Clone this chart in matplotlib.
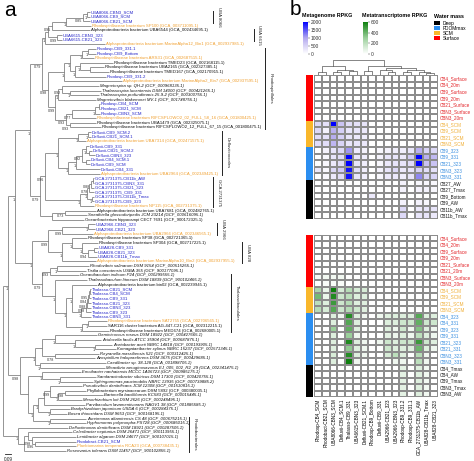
import numpy as np
import matplotlib
matplotlib.use("Agg")
import matplotlib.pyplot as plt
from matplotlib.colors import LinearSegmentedColormap, ListedColormap, Normalize
from matplotlib.cm import ScalarMappable
from matplotlib.patches import Patch

plt.rcParams['font.family'] = ['Liberation Sans', 'DejaVu Sans']

# ---------------- panel a: tree data ----------------
leaf_names = [
    "UBA8066-CBN3_SCM", "UBA8066-CB9_SCM", "UBA8066-CB21_SCM",
    "Rhodospirillaceae bacterium SP100 (GCA_003711095.1)",
    "Alphaproteobacteria bacterium UBA6544 (GCA_002434695.1)",
    "UBA6615-CBN3_323", "UBA6615-CB21_323",
    "Alphaproteobacteria bacterium MarineAlpha12_Bin1 (GCA_002937985.1)",
    "Rhodosp-CB9_331.1", "Rhodosp-CB9_Bottom",
    "Rhodospirillaceae bacterium ARS31 (GCA_002687515.1)",
    "Rhodospirillaceae bacterium TMED23 (GCA_002168115.1)",
    "Rhodospirillaceae bacterium UBA2165 (GCA_002327385.1)",
    "Rhodospirillaceae bacterium TMED167 (GCA_002170915.1)",
    "Rhodosp-CB9_331.2",
    "Alphaproteobacteria bacterium MarineAlpha2_Bin7 (GCA_002937595.1)",
    "Magnetospira sp. QH-2 (GCF_000968135.1)",
    "Thalassospira lucentensis DSM 14000 (GCF_000421265.1)",
    "Thalassospira profundimaris 25-9-2 (GCF_000300755.1)",
    "Magnetovibrio blakemorei MV-1 (GCF_001748755.1)",
    "Rhodosp-CB4_SCM", "Rhodosp-CB21_SCM", "Rhodosp-CBN3_SCM",
    "Rhodospirillaceae bacterium RIFCSPLOWO2_02_FULL_58_16 (GCA_001800425.1)",
    "Rhodospirillaceae bacterium UBA1479 (GCA_002325075.1)",
    "Rhodospirillaceae bacterium RIFCSPLOWO2_12_FULL_67_15 (GCA_001800475.1)",
    "Defluvii-CB9_SCM.2", "Defluvii-CB21_SCM.1",
    "Alphaproteobacteria bacterium UBA7314 (GCA_002471575.1)",
    "Defluvii-CB9_331", "Defluvii-CB21_SCM.2", "Defluvii-CBN3_323",
    "Defluvii-CB4_SCM.1", "Defluvii-CB9_SCM", "Defluvii-CB4_331",
    "Alphaproteobacteria bacterium UBA2964 (GCA_002349425.1)",
    "GCA 2731375-CB11b_AW", "GCA 2731375-CBN3_331", "GCA 2731375-CB21_323",
    "GCA 2731375_CB9_331", "GCA 2731375-CB11b_Tmax", "GCA 2731375-CB9_323",
    "Rhodospirillaceae bacterium NP115 (GCA_002731375.1)",
    "Alphaproteobacteria bacterium UBA7681 (GCA_002482765.1)",
    "Sneathiella glossodoripedis JCM 23214 (GCF_000616095.1)",
    "Oceanibacterium hippocampi CECT 7691 (GCF_900172325.1)",
    "UBA2966-CBN3_323", "UBA2966-CB21_323",
    "Alphaproteobacteria bacterium UBA2966 (GCA_002346565.1)",
    "Rhodospirillaceae bacterium SP38 (GCA_002721365.1)",
    "Rhodospirillaceae bacterium SP304 (GCA_002717225.1)",
    "UBA828-CB9_331", "UBA828-CB21_323", "UBA828-CB11b_Tmax",
    "Alphaproteobacteria bacterium MarineAlpha10_Bin2 (GCA_002937955.1)",
    "Rhodovibrio salinarum DSM 9154 (GCF_000515255.1)",
    "Tistlia consotensis USBA 355 (GCF_900177095.1)",
    "Oceanibaculum indicum P24 (GCF_000299555.1)",
    "Thalassobaculum litoreum DSM 18839 (GCF_900102465.1)",
    "Alphaproteobacteria bacterium bin02 (GCA_002239945.1)",
    "Thalasso-CB21_SCM", "Thalasso-CB4_SCM", "Thalasso-CB9_331",
    "Thalasso-CB21_323", "Thalasso-CBN3_323", "Thalasso-CB9_323",
    "Thalasso-CBN3_331",
    "Rhodospirillaceae bacterium SAT2755 (GCA_002706565.1)",
    "SAR116 cluster bacterium AG-447-C21 (GCA_002312215.1)",
    "Rhodospirillaceae bacterium MED674 (GCA_002680005.1)",
    "Geminicoccus roseus DSM 18922 (GCF_000427665.1)",
    "Acidocella facilis ATCC 35904 (GCF_000687875.1)",
    "Acetobacter aceti NBRC 14818 (GCF_000193905.1)",
    "Komagataeibacter xylinus NBRC 15237 (GCF_001571345.1)",
    "Reyranella massiliensis 521 (GCF_000312425.1)",
    "Azospirillum halopraeferens DSM 3675 (GCF_000429685.1)",
    "Caedibacter sp. 38-128 (GCA_001898705.1)",
    "Micavibrio aeruginosavorus EJ_005_002_R2_29 (GCA_002341475.1)",
    "Emcibacter nanhaiensis MCCC 1A06723 (GCF_000985175.1)",
    "Sandaracinobacter sibiricus DSM 17300 (GCF_000420755.1)",
    "Sphingomonas paucimobilis NBRC 13935 (GCF_000739885.2)",
    "Pseudovibrio denitrificans JCM 12308 (GCF_001510815.1)",
    "Phyllobacterium myrsinacearum DSM 5892 (GCF_000380035.1)",
    "Bartonella bacilliformis KC583 (GCF_000015445.1)",
    "Mesorhizobium loti DSM 2626 (GCF_000248495.1)",
    "Parvibaculum lavamentivorans NAGV1 38 (GCF_001885585.1)",
    "Bradyrhizobium japonicum USDA 6 (GCF_000284375.1)",
    "Bosea thiooxidans DSM 9653 (GCF_900168195.1)",
    "Aureimonas altamirensis CS 48 (GCF_000675215.1)",
    "Hyphomonas polymorpha PS728 (GCF_000685015.1)",
    "Defluviimonas denitrificans DSM 18921 (GCF_000287505.1)",
    "Celeribacter neptunius DSM 26471 (GCF_900113955.1)",
    "Lentibacter algarum DSM 24677 (GCF_900107015.1)",
    "Rhodobact-CB21_SCM",
    "Planktomarina temperata RCA23 (GCA_000738435.1)",
    "Roseovarius tolerans DSM 11457 (GCF_900102855.1)",
]

# B = MAG from this study, O = closest reference MAG, K = reference genome
leaf_kind = list("BBBOKBBOBB" "OKKKBOKKKK" "BBBOKKBBOB" "BBBBBOBBBB"
                 "BBOKKKBBOK" "KBBBOKKKKK" "BBBBBBBOKK" "KKKKKKKKKK"
                 "KKKKKKKKKK" "KKKBOK")

tip_depth = [0.87, 0.87, 0.87, 0.88, 0.87, 0.59, 0.59, 1.02, 0.93, 0.93,
             0.91, 1.10, 1.01, 1.06, 1.03, 1.19, 0.96, 0.98, 0.96, 0.93,
             0.97, 0.97, 0.97, 0.93, 0.93, 0.98, 0.88, 0.88, 0.83, 0.86,
             0.89, 0.92, 0.87, 0.87, 0.97, 0.97, 0.91, 0.91, 0.91, 0.91,
             0.91, 0.91, 0.91, 0.93, 0.84, 0.81, 0.92, 0.92, 0.90, 0.84,
             0.95, 0.95, 0.94, 0.94, 0.93, 0.86, 0.83, 0.76, 0.84, 0.94,
             0.88, 0.88, 0.88, 0.88, 0.88, 0.88, 0.88, 1.04, 1.04, 1.06,
             0.94, 0.98, 1.09, 1.13, 0.96, 0.92, 1.03, 1.02, 0.78, 0.93,
             0.90, 0.79, 0.83, 1.00, 0.79, 0.82, 0.67, 0.64, 0.83, 0.83,
             0.65, 0.69, 0.73, 0.73, 0.73, 0.63]

# internal nodes: (first leaf, last leaf, node depth, support)
tree_clades = [
    (0, 1, 0.84, "1"), (0, 2, 0.80, "0.85"), (0, 3, 0.63, "1"), (0, 4, 0.49, "0.95"),
    (5, 6, 0.54, "0.99"), (0, 6, 0.45, ""), (0, 7, 0.42, "1"),
    (8, 9, 0.85, "1"), (8, 10, 0.79, "1"), (12, 13, 0.87, ""), (11, 13, 0.77, "1"),
    (11, 14, 0.72, "1"), (8, 14, 0.67, "1"), (8, 15, 0.61, "1"),
    (17, 18, 0.67, "1"), (16, 18, 0.59, "0.92"), (16, 19, 0.55, "1"),
    (20, 21, 0.96, ""), (20, 22, 0.92, "1"), (20, 23, 0.69, "0.77"),
    (24, 25, 0.67, "0.93"), (20, 25, 0.63, "0.93"), (16, 25, 0.52, "0.99"),
    (8, 25, 0.45, "0.98"), (0, 25, 0.39, "0.79"),
    (26, 27, 0.85, "1"), (26, 28, 0.75, "1"), (30, 31, 0.86, ""), (29, 31, 0.83, "1"),
    (32, 33, 0.83, ""), (29, 33, 0.79, "0.92"), (29, 34, 0.73, "1"), (29, 35, 0.65, "1"),
    (26, 35, 0.55, "1"),
    (36, 37, 0.90, ""), (36, 38, 0.88, "0.88"), (36, 39, 0.86, "0.78"), (40, 41, 0.89, "1"),
    (36, 41, 0.84, "1"), (36, 42, 0.77, "1"), (26, 42, 0.42, "0.96"),
    (43, 44, 0.62, "0.73"), (43, 45, 0.49, ""), (26, 45, 0.37, "0.79"), (0, 45, 0.27, "1"),
    (46, 47, 0.85, "1"), (46, 48, 0.59, "0.99"), (51, 52, 0.91, ""), (51, 53, 0.85, "0.94"),
    (50, 53, 0.79, "1"), (49, 53, 0.69, "1"), (49, 54, 0.59, "1"), (46, 54, 0.45, "0.99"),
    (55, 56, 0.54, "1"), (55, 57, 0.47, "0.93"),
    (60, 61, 0.87, ""), (60, 62, 0.86, "0.95"), (60, 63, 0.85, "0.84"), (60, 64, 0.84, "0.88"),
    (60, 65, 0.83, "0.98"), (60, 66, 0.78, "1"), (59, 66, 0.69, "1"),
    (67, 68, 0.85, "1"), (67, 69, 0.79, "1"), (59, 69, 0.63, "1"), (58, 69, 0.52, "1"),
    (55, 69, 0.39, "0.79"), (46, 69, 0.29, "1"), (0, 69, 0.12, "1"),
    (72, 73, 0.92, "1"), (71, 73, 0.72, "1"), (70, 73, 0.52, "1"), (74, 75, 0.52, "0.78"),
    (70, 75, 0.39, ""), (76, 77, 0.37, "1"), (70, 77, 0.32, "1"),
    (79, 80, 0.57, "1"), (78, 80, 0.39, "1"), (82, 83, 0.62, "0.98"), (82, 84, 0.55, "1"),
    (81, 84, 0.47, "0.99"), (81, 85, 0.41, ""), (86, 87, 0.47, "1"), (81, 87, 0.35, "1"),
    (88, 89, 0.47, "1"), (81, 89, 0.30, "1"), (78, 89, 0.25, ""), (70, 89, 0.17, "0.98"),
    (0, 89, 0.05, "1"),
    (93, 94, 0.32, "0.96"), (92, 94, 0.29, "0.98"), (91, 94, 0.25, ""), (91, 95, 0.21, ""),
    (90, 95, 0.15, "1"), (0, 95, 0.00, ""),
]

clade_labels = ["UBA 8066", "UBA 6615", "Rhodospirillales", "Defluviicoccales",
                "GCA 2731375", "UBA 2966", "UBA 828", "Thalassobaculales",
                "Rhodobacterales"]
clade_ranges = [(0, 2), (4, 6), (8, 25), (26, 35), (36, 42), (46, 48), (50, 54),
                (57, 69), (88, 95)]
clade_bar_x = [2.10, 2.51, 2.62, 2.19, 2.10, 2.14, 2.39, 2.28, 1.86]

scale_value = "0.09"

# ---------------- panel b: heatmap data ----------------
col_names = ["Rhodosp-CB4_SCM", "Rhodobact-CB21_SCM", "UBA8066-CBN3_SCM",
             "Defluvii-CB4_SCM.1", "Thalasso-CB9_331", "UBA6615-CBN3_323",
             "Defluvii-CB21_SCM.1", "Rhodosp-CB9_Bottom", "Defluvii-CB9_331",
             "UBA2966-CB21_323", "UBA2966-CBN3_323", "Rhodosp-CB9_331.2",
             "Rhodosp-CB9_331.1", "GCA_2731375-CB11b_AW", "UBA828-CB11b_Tmax",
             "UBA828-CB21_323"]

# column dendrogram merges: (child a, child b, height); leaves 0-15, new ids from 16
col_merges = [(0, 1, 0.20), (2, 3, 0.18), (4, 5, 0.22), (17, 18, 0.32), (16, 19, 0.50),
              (6, 7, 0.25), (9, 10, 0.15), (8, 22, 0.30), (14, 15, 0.12), (13, 24, 0.20),
              (11, 12, 0.18), (26, 25, 0.30), (23, 27, 0.42), (21, 28, 0.55),
              (20, 29, 0.88)]

mg_rows = ["CB4_Surface", "CB4_20m", "CB9_Surface", "CB9_20m", "CB21_Surface",
           "CBN3_Surface", "CBN3_20m", "CB4_SCM", "CB9_SCM", "CB21_SCM", "CBN3_SCM",
           "CB9_323", "CB9_331", "CB21_323", "CBN3_323", "CBN3_331",
           "CB27_AW", "CB27_Tmax", "CB9_Bottom", "CB9_AW", "CB11b_AW", "CB11b_Tmax"]
mg_mass = ["Surface"] * 7 + ["SCM"] * 4 + ["FDOMmax"] * 5 + ["Deep"] * 6
mg_values = [
    [0] * 16, [0] * 16, [0] * 16, [0] * 16, [0] * 16, [0] * 16,
    [20, 20, 30, 20, 0, 0, 0, 0, 0, 0, 0, 0, 0, 0, 0, 0],
    [450, 350, 2000, 700, 400, 350, 300, 0, 0, 0, 0, 0, 0, 0, 0, 0],
    [450, 150, 900, 550, 300, 300, 250, 0, 0, 0, 0, 0, 0, 0, 0, 0],
    [400, 350, 950, 550, 300, 250, 200, 0, 0, 0, 0, 0, 0, 0, 0, 0],
    [400, 400, 850, 500, 300, 300, 250, 0, 0, 0, 0, 0, 0, 0, 0, 0],
    [0, 150, 300, 450, 1100, 250, 150, 0, 100, 150, 200, 200, 300, 900, 500, 450],
    [0, 100, 300, 400, 2000, 300, 200, 0, 150, 300, 300, 250, 600, 2000, 900, 800],
    [0, 100, 250, 400, 2000, 300, 200, 0, 100, 250, 300, 300, 400, 2000, 700, 700],
    [250, 100, 450, 600, 1900, 400, 200, 0, 150, 300, 450, 250, 300, 500, 400, 350],
    [0, 100, 250, 400, 1900, 300, 200, 0, 100, 250, 250, 200, 300, 1200, 500, 500],
    [0, 0, 0, 0, 0, 0, 0, 0, 0, 0, 0, 150, 0, 100, 100, 100],
    [0, 0, 0, 0, 0, 0, 0, 0, 0, 0, 0, 150, 0, 150, 150, 100],
    [0, 0, 0, 0, 0, 0, 0, 250, 0, 0, 0, 0, 0, 0, 0, 0],
    [0, 0, 0, 0, 0, 0, 0, 0, 0, 0, 0, 150, 0, 150, 100, 0],
    [0, 0, 0, 0, 0, 0, 0, 0, 0, 0, 0, 450, 0, 250, 300, 300],
    [0, 0, 0, 0, 0, 0, 0, 0, 0, 0, 0, 450, 0, 300, 300, 250],
]

mt_rows = ["CB4_Surface", "CB4_20m", "CB9_Surface", "CB9_20m", "CB21_Surface",
           "CB21_20m", "CBN3_Surface", "CBN3_20m", "CB4_SCM", "CB9_SCM", "CB21_SCM",
           "CBN3_SCM", "CB4_323", "CB4_331", "CB9_323", "CB9_331", "CB21_323",
           "CB21_331", "CBN3_323", "CBN3_331", "CB4_Tmax", "CB4_AW", "CB9_Tmax",
           "CBN3_Tmax", "CBN3_AW"]
mt_mass = ["Surface"] * 8 + ["SCM"] * 4 + ["FDOMmax"] * 8 + ["Deep"] * 5
mt_values = [
    [0] * 16, [0] * 16, [0] * 16, [0] * 16, [0] * 16, [0] * 16,
    [30, 40, 40, 40, 0, 0, 0, 0, 0, 0, 0, 0, 0, 0, 0, 0],
    [0, 20, 20, 20, 0, 0, 0, 0, 0, 0, 0, 0, 0, 0, 0, 0],
    [250, 60, 600, 120, 220, 120, 120, 0, 0, 0, 0, 0, 0, 0, 0, 0],
    [380, 60, 560, 150, 200, 100, 100, 0, 0, 0, 0, 0, 0, 0, 0, 0],
    [200, 100, 500, 150, 220, 100, 100, 0, 0, 0, 0, 0, 0, 0, 0, 0],
    [220, 120, 450, 150, 220, 150, 100, 0, 0, 0, 0, 0, 0, 0, 0, 0],
    [0, 0, 100, 50, 550, 100, 50, 0, 50, 100, 100, 100, 100, 450, 100, 100],
    [0, 0, 100, 0, 450, 100, 0, 0, 0, 100, 100, 150, 150, 420, 150, 150],
    [0, 0, 300, 0, 420, 100, 0, 0, 0, 100, 50, 150, 50, 350, 100, 50],
    [0, 0, 100, 0, 300, 50, 0, 0, 0, 80, 50, 100, 50, 200, 100, 50],
    [0, 0, 100, 0, 560, 100, 50, 0, 50, 150, 100, 150, 150, 500, 150, 100],
    [0, 0, 100, 0, 320, 100, 50, 0, 0, 150, 100, 100, 100, 400, 100, 50],
    [0, 0, 120, 0, 550, 100, 50, 0, 0, 120, 200, 100, 0, 220, 50, 0],
    [0, 0, 100, 0, 600, 50, 0, 0, 0, 0, 50, 50, 0, 200, 50, 0],
    [0, 0, 0, 0, 0, 0, 0, 0, 0, 0, 0, 80, 0, 100, 40, 0],
    [0, 0, 0, 0, 0, 0, 0, 0, 0, 0, 0, 80, 0, 100, 40, 0],
    [0, 0, 0, 0, 0, 0, 0, 0, 0, 0, 0, 80, 0, 100, 40, 0],
    [0, 0, 0, 0, 0, 0, 0, 0, 0, 0, 0, 80, 0, 100, 40, 0],
    [0, 0, 0, 0, 0, 0, 0, 0, 0, 0, 0, 80, 0, 100, 40, 0],
]

mass_order = ["Deep", "FDOMmax", "SCM", "Surface"]
mass_colors = ["#000000", "#2b8ef0", "#f9b72b", "#ff0000"]
mass_text_colors = {"Deep": "#1a1a1a", "FDOMmax": "#3a8fe0", "SCM": "#f0b03a",
                    "Surface": "#e3262b"}
kind_colors = {"B": "#2323c8", "O": "#f0a030", "K": "#111111"}

# ---------------- figure ----------------
W, H = 474, 461
fig = plt.figure(figsize=(W / 100, H / 100), dpi=100)


def rect(x0, y0, x1, y1):
    return [x0 / W, 1 - y1 / H, (x1 - x0) / W, (y1 - y0) / H]


# ---- tree ----
ax = fig.add_axes(rect(0, 0, 284, 461))
ax.set_xlim(-0.03, 2.81)
ax.set_ylim(97.2, -2.6)
ax.axis("off")
lc, lw = "#6a6a6a", 0.5

node_y = {}
order = sorted(range(len(tree_clades)), key=lambda k: tree_clades[k][1] - tree_clades[k][0])
for k in order:
    s, e, d, sup = tree_clades[k]
    inner = [j for j in range(len(tree_clades))
             if j != k and tree_clades[j][0] >= s and tree_clades[j][1] <= e
             and (tree_clades[j][0], tree_clades[j][1]) != (s, e)]
    maximal = []
    for j in inner:
        sj, ej = tree_clades[j][0], tree_clades[j][1]
        if not any(i2 != j and tree_clades[i2][0] <= sj and tree_clades[i2][1] >= ej
                   and (tree_clades[i2][1] - tree_clades[i2][0]) > (ej - sj) for i2 in inner):
            maximal.append(j)
    covered = set()
    children = []
    for j in maximal:
        children.append((node_y[j], tree_clades[j][2]))
        covered.update(range(tree_clades[j][0], tree_clades[j][1] + 1))
    for i in range(s, e + 1):
        if i not in covered:
            children.append((i, tip_depth[i]))
    ys = [c[0] for c in children]
    y0, y1 = min(ys), max(ys)
    node_y[k] = (y0 + y1) / 2
    ax.plot([d, d], [y0, y1], color=lc, lw=lw, solid_capstyle="butt")
    for cy, cx in children:
        ax.plot([d, cx], [cy, cy], color=lc, lw=lw, solid_capstyle="butt")
    if sup:
        ax.text(d - 0.004, node_y[k] + 0.3, sup, fontsize=2.7, ha="right", va="top",
                color="#333333")

for i, (nm, kd) in enumerate(zip(leaf_names, leaf_kind)):
    italic = kd == "K" and "bacterium" not in nm
    ax.text(tip_depth[i] + 0.01, i, nm, fontsize=3.05, va="center", ha="left",
            color=kind_colors[kd], style="italic" if italic else "normal")

for lab, (s, e), bx in zip(clade_labels, clade_ranges, clade_bar_x):
    ax.plot([bx, bx], [s - 0.3, e + 0.3], color="#222222", lw=0.7)
    ax.text(bx + 0.035, (s + e) / 2, lab, rotation=270, fontsize=3.2, ha="left",
            va="center", color="#222222")

ax.plot([0.02, 0.08], [95.7, 95.7], color="#222222", lw=0.6)
ax.text(0.05, 96.4, scale_value, fontsize=3.4, ha="center", va="top", color="#222222")

fig.text(4 / W, 1 - 1 / H, "a", fontsize=15, va="top", ha="left")
fig.text(290 / W, 1 - 0 / H, "b", fontsize=15, va="top", ha="left")

# ---- colormaps ----
cmap_mg = LinearSegmentedColormap.from_list("mg", ["#ffffff", "#b3a9ee", "#0000ff"])
cmap_mt = LinearSegmentedColormap.from_list("mt", ["#ffffff", "#9bcf9b", "#0e7f0e"])
mass_cmap = ListedColormap(mass_colors)


def heat(y0, y1, values, rows, masses, cmap, vmax, show_cols):
    axh = fig.add_axes(rect(314, y0, 438, y1))
    arr = np.array(values, dtype=float)
    axh.pcolormesh(arr, cmap=cmap, vmin=0, vmax=vmax, edgecolors="#8c8c8c",
                   linewidth=0.3)
    axh.set_xlim(0, arr.shape[1])
    axh.set_ylim(arr.shape[0], 0)
    axh.set_yticks(np.arange(len(rows)) + 0.5)
    axh.set_yticklabels(rows, fontsize=3.3)
    axh.yaxis.tick_right()
    for t, m in zip(axh.get_yticklabels(), masses):
        t.set_color(mass_text_colors[m])
    axh.tick_params(axis="y", length=0, pad=1.2)
    if show_cols:
        axh.set_xticks(np.arange(len(col_names)) + 0.5)
        axh.set_xticklabels(col_names, rotation=90, fontsize=3.3)
        axh.tick_params(axis="x", length=0, pad=1.2)
    else:
        axh.set_xticks([])
    for sp in axh.spines.values():
        sp.set_visible(False)
    axs = fig.add_axes(rect(306, y0, 313, y1))
    codes = np.array([mass_order.index(m) for m in masses])[:, None]
    axs.pcolormesh(codes, cmap=mass_cmap, vmin=-0.5, vmax=3.5)
    axs.set_ylim(len(masses), 0)
    axs.axis("off")
    return axh


heat(75, 219, mg_values, mg_rows, mg_mass, cmap_mg, 2000, False)
heat(235, 397, mt_values, mt_rows, mt_mass, cmap_mt, 600, True)

# ---- column dendrogram ----
axd = fig.add_axes(rect(314, 58, 438, 75))
axd.set_xlim(-0.5, len(col_names) - 0.5)
axd.set_ylim(0, 1.0)
axd.axis("off")
pos = {i: float(i) for i in range(len(col_names))}
hgt = {i: 0.0 for i in range(len(col_names))}
nid = len(col_names)
for a, b, h in col_merges:
    axd.plot([pos[a], pos[a], pos[b], pos[b]], [hgt[a], h, h, hgt[b]],
             color="#555555", lw=0.5)
    pos[nid] = (pos[a] + pos[b]) / 2
    hgt[nid] = h
    nid += 1

# ---- legends ----
cax1 = fig.add_axes(rect(303, 22, 308, 54))
cb1 = fig.colorbar(ScalarMappable(norm=Normalize(0, 2000), cmap=cmap_mg), cax=cax1,
                   ticks=[0, 500, 1000, 1500, 2000])
cax2 = fig.add_axes(rect(363, 22, 368, 54))
cb2 = fig.colorbar(ScalarMappable(norm=Normalize(0, 600), cmap=cmap_mt), cax=cax2,
                   ticks=[0, 200, 400, 600])
for cb in (cb1, cb2):
    cb.outline.set_visible(False)
    cb.ax.tick_params(labelsize=3.5, length=1.2, width=0.3, pad=1, colors="#333333")

fig.text(302 / W, 1 - 16 / H, "Metagenome RPKG", fontsize=3.9, fontweight="bold",
         va="center", ha="left")
fig.text(362 / W, 1 - 16 / H, "Metatranscriptome RPKG", fontsize=3.9,
         fontweight="bold", va="center", ha="left")
fig.text(434 / W, 1 - 16 / H, "Water mass", fontsize=3.9, fontweight="bold",
         va="center", ha="left")
handles = [Patch(facecolor=c, edgecolor="none") for c in mass_colors]
fig.legend(handles, mass_order, loc="upper left", bbox_to_anchor=(434 / W, 1 - 21 / H),
           frameon=False, fontsize=3.5, handlelength=1.25, handleheight=0.9,
           handletextpad=0.5, labelspacing=0.0, borderpad=0, borderaxespad=0)

fig.savefig("out.png", dpi=100)
